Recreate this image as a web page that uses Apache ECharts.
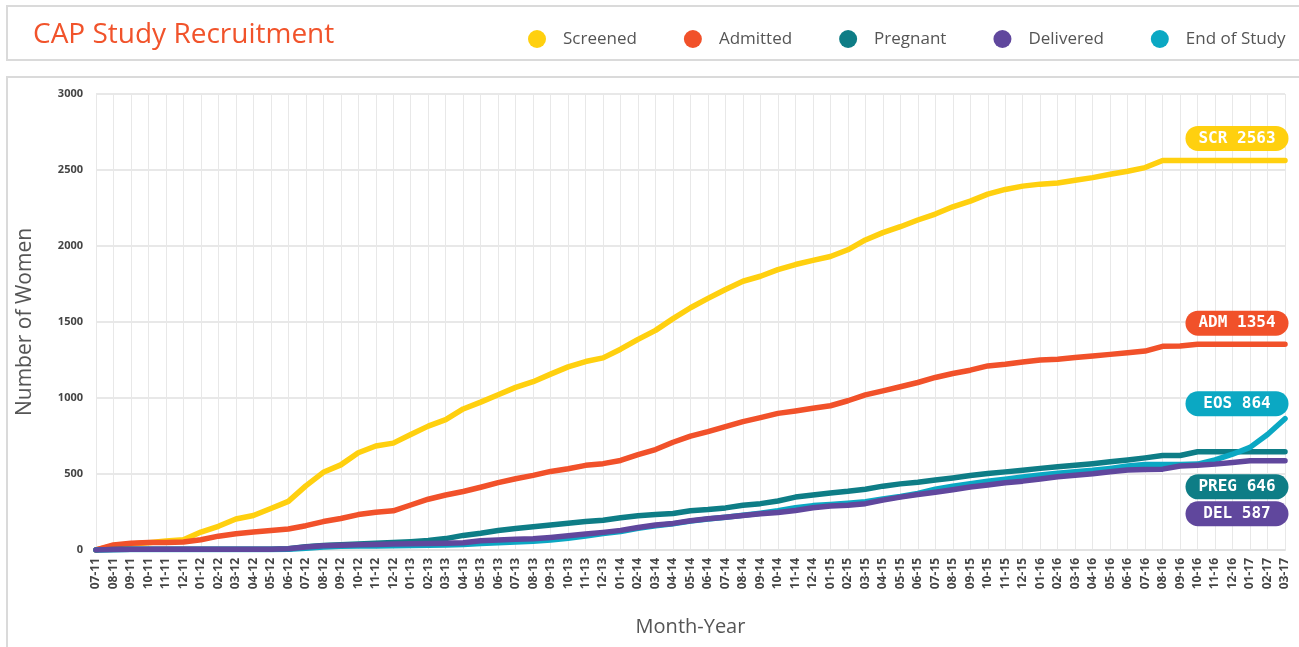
<!DOCTYPE html>
<html><head><meta charset="utf-8">
<script src="https://cdn.jsdelivr.net/npm/echarts@6/dist/echarts.min.js"></script>
<style>html,body{margin:0;padding:0;background:#fff;}#c{width:1299px;height:647px;}</style>
</head><body><div id="c"></div>
<script>
const months = ['07-11','08-11','09-11','10-11','11-11','12-11',
'01-12','02-12','03-12','04-12','05-12','06-12','07-12','08-12','09-12','10-12','11-12','12-12',
'01-13','02-13','03-13','04-13','05-13','06-13','07-13','08-13','09-13','10-13','11-13','12-13',
'01-14','02-14','03-14','04-14','05-14','06-14','07-14','08-14','09-14','10-14','11-14','12-14',
'01-15','02-15','03-15','04-15','05-15','06-15','07-15','08-15','09-15','10-15','11-15','12-15',
'01-16','02-16','03-16','04-16','05-16','06-16','07-16','08-16','09-16','10-16','11-16','12-16',
'01-17','02-17','03-17'];
const yTicks = [0, 500, 1000, 1500, 2000, 2500, 3000];

const screened = [0,29,40,47,60,67,118,156,204,227,273,320,422,511,560,640,684,703,760,815,858,928,973,1022,1070,1107,1157,1205,1240,1264,1321,1386,1445,1522,1594,1655,1714,1768,1801,1845,1878,1905,1931,1975,2040,2088,2127,2171,2210,2258,2295,2341,2372,2394,2407,2415,2433,2450,2472,2492,2516,2563,2563,2563,2563,2563,2563,2563,2563];
const admitted = [0,33,44,49,50,52,67,91,107,118,129,138,160,187,207,233,249,258,296,334,362,385,413,443,469,491,517,535,557,568,589,627,661,709,749,779,812,845,871,899,915,932,949,982,1021,1047,1074,1102,1135,1161,1183,1211,1222,1237,1250,1255,1266,1277,1287,1298,1309,1340,1342,1354,1354,1354,1354,1354,1354];
const pregnant = [0,3,5,5,5,5,5,5,5,5,5,8,22,30,35,40,44,50,55,62,75,96,110,128,142,153,165,176,187,196,212,226,233,240,258,266,277,294,305,322,348,362,375,386,400,420,435,446,460,474,490,503,514,525,537,548,558,568,580,592,606,622,622,646,646,646,646,646,646];
const delivered = [0,3,5,5,5,5,5,5,5,5,5,8,20,28,32,34,36,39,41,42,44,48,61,65,70,74,83,94,105,116,129,148,164,175,192,205,216,227,238,247,260,278,290,295,305,328,348,365,380,396,414,428,442,453,467,482,492,502,515,527,530,532,553,558,565,576,587,587,587];
const endOfStudy = [0,2,3,3,3,3,3,3,3,3,3,5,12,20,24,26,27,28,30,31,33,36,42,47,52,57,66,78,92,108,122,143,160,172,190,204,216,228,242,258,278,292,300,308,318,336,352,372,400,420,436,452,466,480,493,505,515,524,537,552,562,563,563,565,593,630,675,760,864];

const seriesNames = ['Screened','Admitted','Pregnant','Delivered','End of Study'];
const badgeCodes = ['SCR','ADM','PREG','DEL','EOS'];
const colors = ['#FFD00F','#F1512A','#0E7D86','#60479D','#0BA8C3'];
const badgeDy = [-22,-21,35,53,-15];

const chart = echarts.init(document.getElementById('c'));
const seriesData = [screened, admitted, pregnant, delivered, endOfStudy];
// draw order: teal under cyan under purple
const drawOrder = [0,1,2,4,3];
const series = drawOrder.map(k => ({
  name: seriesNames[k],
  type: 'line',
  data: seriesData[k],
  showSymbol: false,
  symbol: 'none',
  color: colors[k],
  lineStyle: {width: 5.5, color: colors[k], cap: 'round', join: 'round'},
  animation: false,
  endLabel: {
    show: true,
    formatter: () => badgeCodes[k] + ' ' + seriesData[k][seriesData[k].length - 1],
    distance: 0,
    align: 'center',
    verticalAlign: 'middle',
    offset: [-48, badgeDy[k]],
    width: 77,
    backgroundColor: colors[k],
    borderRadius: 13,
    padding: [3, 13],
    color: '#fff',
    fontFamily: 'DejaVu Sans Mono',
    fontWeight: 'bold',
    fontSize: 16,
    lineHeight: 19
  }
}));

chart.setOption({
  backgroundColor: '#fff',
  animation: false,
  graphic: [
    {type: 'rect', z: -100, shape: {x: 7, y: 6, width: 1300, height: 54}, style: {fill: '#fff', stroke: '#dadada', lineWidth: 2}},
    {type: 'rect', z: -100, shape: {x: 7, y: 77, width: 1300, height: 590}, style: {fill: '#fff', stroke: '#dadada', lineWidth: 2}}
  ],
  title: {
    text: 'CAP Study Recruitment',
    left: 33, top: 21, padding: 0,
    textStyle: {color: '#F1532B', fontSize: 28, fontWeight: 'normal', fontFamily: 'Open Sans'}
  },
  legend: {
    data: seriesNames,
    left: 528, top: 30, padding: 0,
    icon: 'circle', itemWidth: 18, itemHeight: 18, itemGap: 47,
    formatter: '{a|{name}}',
    textStyle: {
      color: '#555', fontSize: 17, fontFamily: 'Open Sans',
      rich: {a: {padding: [0, 0, 0, 12], color: '#555', fontSize: 17, fontFamily: 'Open Sans'}}
    }
  },
  grid: {left: 96, right: 14, top: 94, bottom: 97},
  xAxis: {
    type: 'category', data: months, boundaryGap: false,
    name: 'Month-Year', nameLocation: 'middle', nameGap: 67,
    nameTextStyle: {fontSize: 20, color: '#555', fontFamily: 'Open Sans'},
    axisLine: {lineStyle: {color: '#e2e2e2', width: 2}},
    axisTick: {show: false},
    axisLabel: {rotate: 90, interval: 0, margin: 8, fontSize: 12, fontWeight: 'bold', color: '#444', fontFamily: 'Open Sans'},
    splitLine: {show: true, interval: 0, lineStyle: {color: '#e8e8e8', width: 1}}
  },
  yAxis: {
    type: 'value', min: yTicks[0], max: yTicks[yTicks.length - 1], interval: 500,
    name: 'Number of Women', nameLocation: 'middle', nameGap: 60,
    nameTextStyle: {fontSize: 21, color: '#555', fontFamily: 'Open Sans'},
    axisLine: {show: false}, axisTick: {show: false},
    axisLabel: {margin: 13, fontSize: 11, fontWeight: 'bold', color: '#444', fontFamily: 'Open Sans', formatter: v => String(v)},
    splitLine: {lineStyle: {color: '#e8e8e8', width: 2}}
  },
  series: series
});
</script>
</body></html>
